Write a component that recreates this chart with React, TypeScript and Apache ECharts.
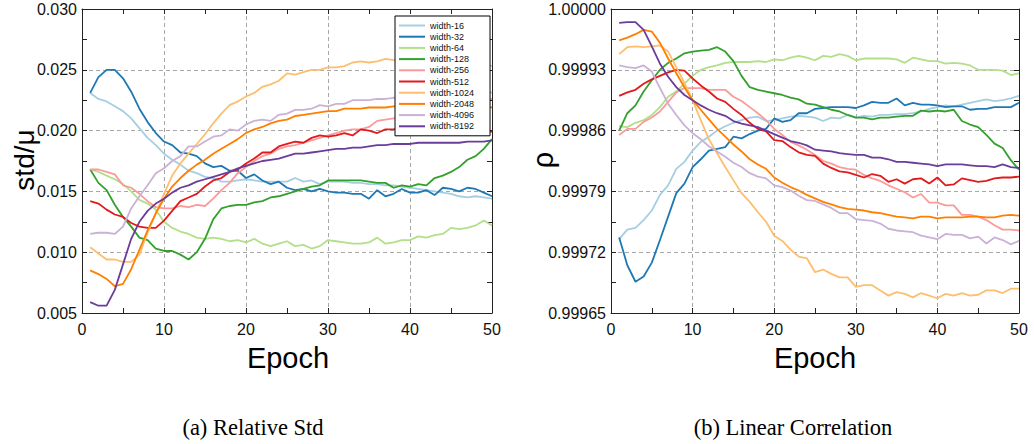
import React, { useEffect, useRef } from "react";
import * as echarts from "echarts";

const epochs = [1,2,3,4,5,6,7,8,9,10,11,12,13,14,15,16,17,18,19,20,21,22,23,24,25,26,27,28,29,30,31,32,33,34,35,36,37,38,39,40,41,42,43,44,45,46,47,48,49,50];

const seriesNames = ["width-16","width-32","width-64","width-128","width-256","width-512","width-1024","width-2048","width-4096","width-8192"];
const seriesColors = ["#a6cee3","#1f78b4","#b2df8a","#33a02c","#fb9a99","#e31a1c","#fdbf6f","#ff7f00","#cab2d6","#6a3d9a"];

// (a) Relative Std  (std/μ)
const std16 = [.0231,.0226,.0224,.0220,.0216,.0210,.0202,.0194,.0188,.0181,.0176,.0172,.0167,.0165,.0162,.0161,.0158,.0158,.0159,.0160,.0159,.0158,.0158,.0158,.0158,.0161,.0158,.0159,.0156,.0158,.0158,.0158,.0157,.0157,.0156,.0156,.0155,.0155,.0154,.0153,.0152,.0151,.0150,.0149,.0148,.0146,.0145,.0146,.0145,.0144];
const std32 = [.0231,.0244,.0250,.0250,.0243,.0232,.0218,.0207,.0198,.0191,.0188,.0182,.0181,.0179,.0173,.0170,.0171,.0167,.0167,.0161,.0164,.0159,.0156,.0158,.0153,.0151,.0152,.0150,.0152,.0150,.0149,.0149,.0148,.0148,.0144,.0151,.0146,.0148,.0152,.0149,.0149,.0151,.0147,.0153,.0152,.0150,.0153,.0152,.0149,.0146];
const std64 = [.0168,.0166,.0163,.0160,.0156,.0150,.0143,.0140,.0135,.0125,.0120,.0117,.0115,.0112,.0111,.0112,.0111,.0109,.0110,.0108,.0111,.0107,.0105,.0107,.0109,.0105,.0106,.0103,.0105,.0110,.0109,.0108,.0107,.0107,.0108,.0112,.0107,.0108,.0110,.0110,.0113,.0112,.0114,.0115,.0120,.0119,.0120,.0122,.0126,.0122];
const std128 = [.0168,.0157,.0151,.0139,.0129,.0121,.0112,.0110,.0103,.0101,.0101,.0098,.0094,.0100,.0111,.0127,.0136,.0138,.0139,.0139,.0141,.0142,.0145,.0146,.0148,.0150,.0152,.0154,.0155,.0159,.0159,.0159,.0159,.0159,.0158,.0157,.0157,.0153,.0155,.0154,.0156,.0155,.0161,.0163,.0166,.0170,.0176,.0179,.0185,.0193];
const std256 = [.0168,.0168,.0166,.0164,.0155,.0153,.0148,.0142,.0137,.0136,.0136,.0138,.0137,.0139,.0138,.0144,.0151,.0157,.0165,.0170,.0175,.0179,.0181,.0185,.0187,.0188,.0190,.0192,.0194,.0196,.0198,.0200,.0201,.0201,.0203,.0208,.0209,.0210,.0212,.0214,.0215,.0217,.0218,.0219,.0221,.0222,.0223,.0224,.0225,.0226];
const std512 = [.0142,.0140,.0135,.0131,.0129,.0124,.0121,.0120,.0120,.0126,.0134,.0142,.0145,.0148,.0154,.0159,.0161,.0166,.0168,.0173,.0177,.0182,.0182,.0187,.0189,.0191,.0190,.0194,.0196,.0195,.0196,.0198,.0196,.0201,.0200,.0198,.0201,.0201,.0202,.0202,.0202,.0203,.0202,.0203,.0202,.0202,.0201,.0201,.0201,.0199];
const std1024 = [.0104,.0099,.0094,.0094,.0092,.0092,.0098,.0116,.0132,.0148,.0163,.0173,.0181,.0189,.0197,.0206,.0214,.0221,.0224,.0228,.0231,.0236,.0238,.0241,.0247,.0246,.0248,.0250,.0250,.0252,.0252,.0253,.0256,.0257,.0256,.0257,.0259,.0258,.0258,.0258,.0257,.0258,.0257,.0258,.0257,.0257,.0258,.0256,.0255,.0253];
const std2048 = [.0085,.0082,.0078,.0072,.0074,.0086,.0102,.0118,.0132,.0144,.0154,.0161,.0167,.0172,.0176,.0181,.0185,.0189,.0193,.0198,.0201,.0203,.0206,.0208,.0209,.0212,.0213,.0214,.0215,.0216,.0216,.0218,.0218,.0218,.0219,.0219,.0219,.0220,.0220,.0220,.0220,.0220,.0220,.0220,.0220,.0220,.0220,.0219,.0220,.0219];
const std4096 = [.0115,.0116,.0116,.0115,.0121,.0136,.0146,.0155,.0165,.0169,.0175,.0179,.0187,.0187,.0191,.0195,.0196,.0201,.0200,.0205,.0208,.0209,.0208,.0213,.0214,.0217,.0217,.0218,.0221,.0220,.0222,.0222,.0225,.0225,.0225,.0226,.0226,.0227,.0227,.0228,.0228,.0229,.0229,.0230,.0230,.0231,.0231,.0232,.0233,.0231];
const std8192 = [.0059,.0056,.0056,.0069,.0090,.0111,.0125,.0134,.0140,.0144,.0149,.0153,.0155,.0158,.0160,.0162,.0164,.0166,.0169,.0171,.0173,.0175,.0176,.0177,.0179,.0181,.0181,.0182,.0183,.0184,.0185,.0185,.0186,.0186,.0187,.0188,.0188,.0189,.0189,.0189,.0190,.0190,.0190,.0190,.0190,.0190,.0191,.0191,.0191,.0192];

// (b) Linear Correlation  (ρ)
const rho16 = [0.999735,0.999746,0.999748,0.999757,0.999768,0.999786,0.999797,0.999816,0.999824,0.999837,0.999847,0.999853,0.999860,0.999865,0.999869,0.999872,0.999875,0.999876,0.999871,0.999872,0.999874,0.999876,0.999877,0.999876,0.999875,0.999871,0.999875,0.999874,0.999878,0.999875,0.999877,0.999876,0.999878,0.999878,0.999879,0.999879,0.999880,0.999882,0.999885,0.999887,0.999889,0.999888,0.999890,0.999892,0.999894,0.999896,0.999894,0.999895,0.999897,0.999900];
const rho32 = [0.999737,0.999705,0.999686,0.999692,0.999708,0.999734,0.999761,0.999788,0.999799,0.999818,0.999827,0.999837,0.999839,0.999841,0.999853,0.999851,0.999856,0.999860,0.999862,0.999874,0.999870,0.999872,0.999880,0.999880,0.999885,0.999886,0.999887,0.999887,0.999887,0.999886,0.999889,0.999893,0.999892,0.999892,0.999897,0.999889,0.999892,0.999890,0.999890,0.999889,0.999887,0.999888,0.999888,0.999884,0.999885,0.999885,0.999887,0.999887,0.999887,0.999892];
const rho64 = [0.999865,0.999864,0.999869,0.999872,0.999878,0.999887,0.999899,0.999905,0.999914,0.999923,0.999930,0.999933,0.999935,0.999938,0.999939,0.999939,0.999939,0.999940,0.999939,0.999942,0.999941,0.999944,0.999946,0.999944,0.999941,0.999946,0.999945,0.999948,0.999946,0.999941,0.999943,0.999943,0.999943,0.999943,0.999942,0.999938,0.999944,0.999942,0.999940,0.999940,0.999937,0.999938,0.999937,0.999935,0.999930,0.999930,0.999930,0.999929,0.999924,0.999926];
const rho128 = [0.999860,0.999880,0.999889,0.999905,0.999918,0.999930,0.999938,0.999943,0.999949,0.999951,0.999952,0.999953,0.999956,0.999951,0.999940,0.999923,0.999910,0.999907,0.999905,0.999903,0.999901,0.999898,0.999896,0.999891,0.999890,0.999887,0.999884,0.999882,0.999878,0.999875,0.999875,0.999873,0.999875,0.999875,0.999876,0.999877,0.999877,0.999883,0.999882,0.999883,0.999882,0.999884,0.999871,0.999867,0.999864,0.999855,0.999845,0.999840,0.999826,0.999815];
const rho256 = [0.999855,0.999862,0.999862,0.999870,0.999875,0.999882,0.999893,0.999904,0.999909,0.999909,0.999909,0.999907,0.999907,0.999907,0.999899,0.999894,0.999887,0.999880,0.999872,0.999862,0.999855,0.999847,0.999843,0.999838,0.999832,0.999825,0.999822,0.999818,0.999816,0.999815,0.999809,0.999805,0.999802,0.999797,0.999793,0.999789,0.999783,0.999787,0.999777,0.999777,0.999774,0.999774,0.999763,0.999763,0.999761,0.999757,0.999751,0.999746,0.999746,0.999745];
const rho512 = [0.999900,0.999904,0.999907,0.999914,0.999919,0.999923,0.999927,0.999930,0.999929,0.999920,0.999912,0.999905,0.999897,0.999893,0.999885,0.999878,0.999869,0.999862,0.999859,0.999849,0.999848,0.999841,0.999835,0.999832,0.999831,0.999822,0.999817,0.999813,0.999812,0.999809,0.999806,0.999810,0.999808,0.999801,0.999804,0.999799,0.999804,0.999805,0.999799,0.999806,0.999797,0.999798,0.999805,0.999803,0.999801,0.999802,0.999805,0.999806,0.999806,0.999807];
const rho1024 = [0.999948,0.999956,0.999957,0.999956,0.999957,0.999958,0.999951,0.999933,0.999915,0.999895,0.999872,0.999850,0.999834,0.999818,0.999803,0.999788,0.999778,0.999766,0.999755,0.999739,0.999733,0.999723,0.999715,0.999713,0.999697,0.999700,0.999695,0.999691,0.999691,0.999680,0.999682,0.999682,0.999676,0.999670,0.999674,0.999672,0.999668,0.999673,0.999670,0.999667,0.999672,0.999670,0.999673,0.999670,0.999671,0.999676,0.999676,0.999673,0.999678,0.999678];
const rho2048 = [0.999964,0.999967,0.999971,0.999976,0.999974,0.999961,0.999943,0.999926,0.999910,0.999895,0.999884,0.999873,0.999862,0.999853,0.999844,0.999836,0.999827,0.999821,0.999816,0.999806,0.999800,0.999795,0.999791,0.999786,0.999782,0.999778,0.999775,0.999772,0.999770,0.999769,0.999768,0.999766,0.999765,0.999763,0.999761,0.999760,0.999759,0.999761,0.999761,0.999759,0.999760,0.999760,0.999760,0.999761,0.999761,0.999760,0.999760,0.999762,0.999763,0.999762];
const rho4096 = [0.999935,0.999933,0.999932,0.999935,0.999928,0.999909,0.999891,0.999878,0.999866,0.999857,0.999850,0.999842,0.999836,0.999830,0.999823,0.999818,0.999811,0.999807,0.999805,0.999797,0.999795,0.999791,0.999785,0.999780,0.999779,0.999775,0.999771,0.999765,0.999765,0.999758,0.999757,0.999756,0.999753,0.999747,0.999745,0.999744,0.999743,0.999739,0.999737,0.999735,0.999741,0.999740,0.999740,0.999736,0.999738,0.999730,0.999737,0.999734,0.999729,0.999733];
const rho8192 = [0.999984,0.999985,0.999985,0.999976,0.999957,0.999937,0.999922,0.999910,0.999901,0.999895,0.999889,0.999884,0.999880,0.999877,0.999871,0.999868,0.999866,0.999864,0.999860,0.999856,0.999852,0.999848,0.999846,0.999843,0.999838,0.999837,0.999836,0.999834,0.999833,0.999832,0.999832,0.999829,0.999829,0.999827,0.999824,0.999824,0.999823,0.999822,0.999821,0.999819,0.999821,0.999821,0.999821,0.999820,0.999819,0.999819,0.999818,0.999821,0.999818,0.999817];

const stdSeries = [std16, std32, std64, std128, std256, std512, std1024, std2048, std4096, std8192];
const rhoSeries = [rho16, rho32, rho64, rho128, rho256, rho512, rho1024, rho2048, rho4096, rho8192];

const xTicks = { min: 0, max: 50, interval: 10 };
const stdTicks = { min: 0.005, max: 0.03, interval: 0.005 };
const rhoBase = 0.99965; // bottom of ρ axis
const rhoUnit = 1e-5;
const rhoTicks = { min: 0, max: 35, interval: 7 }; // in units of 1e-5 above rhoBase

const SANS = "'Liberation Sans', Arial, sans-serif";
const SERIF = "'Liberation Serif', 'Times New Roman', serif";
const AXIS_COLOR = "#222";

function axisCommon(showLabel: boolean, split: boolean) {
  return {
    axisLine: { show: true, onZero: false, lineStyle: { color: AXIS_COLOR, width: 1 } },
    axisTick: { show: true, inside: true, length: 5, lineStyle: { color: AXIS_COLOR } },
    minorTick: { show: true, splitNumber: 2, length: 5, lineStyle: { color: AXIS_COLOR } },
    splitLine: split
      ? { show: true, lineStyle: { color: "#a8a8a8", type: [4, 3], width: 1 } }
      : { show: false },
    minorSplitLine: { show: false },
    axisLabel: showLabel
      ? { show: true, fontSize: 16, color: "#111", fontFamily: SANS }
      : { show: false },
  };
}

export default function App() {
  const ref = useRef<HTMLDivElement>(null);

  useEffect(() => {
    if (!ref.current) return;
    const chart = echarts.init(ref.current, undefined, { renderer: "svg" });

    const xAxes: any[] = [];
    const yAxes: any[] = [];
    [0, 1].forEach((g) => {
      xAxes.push({ type: "value", gridIndex: g, position: "bottom", ...xTicks, ...axisCommon(true, true),
        axisLabel: { show: true, fontSize: 16, color: "#111", fontFamily: SANS, margin: 8 } });
      xAxes.push({ type: "value", gridIndex: g, position: "top", ...xTicks, ...axisCommon(false, false) });
    });
    yAxes.push({ type: "value", gridIndex: 0, position: "left", ...stdTicks, ...axisCommon(true, true),
      axisLabel: { show: true, fontSize: 16, color: "#111", fontFamily: SANS, margin: 5,
        formatter: (v: number) => v.toFixed(3) } });
    yAxes.push({ type: "value", gridIndex: 0, position: "right", ...stdTicks, ...axisCommon(false, false) });
    yAxes.push({ type: "value", gridIndex: 1, position: "left", ...rhoTicks, ...axisCommon(true, true),
      axisLabel: { show: true, fontSize: 16, color: "#111", fontFamily: SANS, margin: 5,
        formatter: (v: number) => (rhoBase + v * rhoUnit).toFixed(5) } });
    yAxes.push({ type: "value", gridIndex: 1, position: "right", ...rhoTicks, ...axisCommon(false, false) });

    const series: any[] = [];
    seriesNames.forEach((name, i) => {
      series.push({
        type: "line", name, xAxisIndex: 0, yAxisIndex: 0, symbol: "none", showSymbol: false,
        lineStyle: { color: seriesColors[i], width: 1.8 }, itemStyle: { color: seriesColors[i] },
        data: epochs.map((e, k) => [e, stdSeries[i][k]]),
      });
    });
    seriesNames.forEach((name, i) => {
      series.push({
        type: "line", name, xAxisIndex: 2, yAxisIndex: 2, symbol: "none", showSymbol: false,
        lineStyle: { color: seriesColors[i], width: 1.8 }, itemStyle: { color: seriesColors[i] },
        data: epochs.map((e, k) => [e, (rhoSeries[i][k] - rhoBase) / rhoUnit]),
      });
    });

    const txt = (text: string, x: number, y: number, fontSize: number, font: string, rotation = 0) => ({
      type: "text", x, y, rotation,
      style: { text, fontSize, fontFamily: font, fill: "#000", textAlign: "center", textVerticalAlign: "middle" },
    });

    chart.setOption({
      animation: false,
      backgroundColor: "#fff",
      grid: [
        { left: 82, top: 9, width: 410, height: 304, containLabel: false },
        { left: 611, top: 9, width: 408, height: 304, containLabel: false },
      ],
      xAxis: xAxes,
      yAxis: yAxes,
      legend: {
        data: seriesNames, orient: "vertical", left: 395, top: 16,
        icon: "rect", itemWidth: 26, itemHeight: 2, itemGap: 0.2,
        padding: [4, 16, 4, 4], backgroundColor: "#fff", borderColor: "#000", borderWidth: 1,
        borderRadius: 0,
        textStyle: { fontSize: 9, lineHeight: 11, color: "#111", fontFamily: SANS },
        selectedMode: false,
      },
      graphic: [
        txt("std/μ", 24, 160, 28, SANS, Math.PI / 2),
        txt("ρ", 543, 160, 29, SANS, Math.PI / 2),
        txt("Epoch", 288, 358, 29, SANS),
        txt("Epoch", 815, 358, 29, SANS),
        txt("(a) Relative Std", 253, 427, 22.5, SERIF),
        txt("(b) Linear Correlation", 793, 427, 22.5, SERIF),
      ],
      series,
    });

    return () => chart.dispose();
  }, []);

  return (
    <div
      ref={ref}
      style={{ position: "fixed", left: 0, top: 0, width: 1034, height: 444, background: "#fff" }}
    />
  );
}
